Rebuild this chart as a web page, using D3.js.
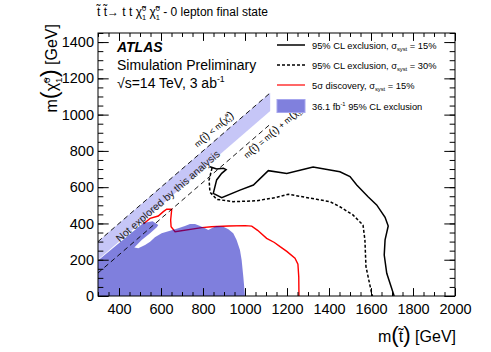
<!DOCTYPE html>
<html>
<head>
<meta charset="utf-8">
<script src="https://cdn.jsdelivr.net/npm/d3@7"></script>
<style>
  body { margin: 0; background: #fff; }
  svg text { font-family: "Liberation Sans", Arial, sans-serif; fill: #000; }
</style>
</head>
<body>
<div id="chart"></div>
<script>
// --- données (m(stop), m(chi)) en GeV ---
const xTicks = [400, 600, 800, 1000, 1200, 1400, 1600, 1800, 2000];
const yTicks = [0, 200, 400, 600, 800, 1000, 1200, 1400];

const limit15 = [
  [833, 713], [865, 700], [897, 704], [910, 697], [889, 676], [865, 640],
  [849, 566], [889, 542], [976, 584], [1040, 612], [1111, 691], [1199, 676],
  [1324, 711], [1452, 685], [1500, 658], [1532, 612], [1586, 547], [1627, 502],
  [1667, 434], [1682, 386], [1667, 309], [1663, 226], [1675, 125], [1706, 15], [1710, 0]
];
const limit30 = [
  [843, 706], [829, 640], [833, 573], [865, 533], [943, 520], [1056, 525],
  [1151, 544], [1206, 561], [1341, 533], [1405, 520], [1452, 492], [1514, 447],
  [1562, 391], [1571, 309], [1576, 162], [1603, 15], [1607, 0]
];
const discovery15 = [
  [516, 397], [548, 428], [587, 441], [611, 465], [627, 478], [651, 478],
  [646, 419], [648, 382], [667, 354], [794, 377], [841, 382], [921, 386],
  [1000, 388], [1032, 385], [1060, 362], [1103, 318], [1140, 295], [1167, 272],
  [1199, 246], [1238, 208], [1252, 175], [1256, 106], [1257, 0]
];
const excl36 = [
  [300, 0], [1000, 0], [992, 106], [984, 198], [976, 254], [960, 309], [944, 346],
  [921, 368], [897, 382], [865, 386], [841, 373], [825, 364], [810, 373], [786, 386],
  [762, 397], [738, 397], [714, 386], [682, 373], [643, 360], [603, 346], [571, 324],
  [548, 299], [524, 281], [492, 263], [473, 268], [508, 309], [548, 346], [580, 379],
  [587, 391], [560, 412], [516, 402], [300, 196]
];
const bandNotExplored = [[300, 300], [1120, 1120], [1120, 1020], [300, 200]];
const lineDegenerate = [[300, 300], [1120, 1120]];
const lineTopMass = [[300, 127], [1120, 947]];

const W = 491, H = 352;
const FRAME = { left: 98, right: 455, top: 33, bottom: 296 };

const x = d3.scaleLinear().domain([300, 2000]).range([FRAME.left, FRAME.right]);
const y = d3.scaleLinear().domain([0, 1450]).range([FRAME.bottom, FRAME.top]);

const svg = d3.select('#chart').append('svg')
  .attr('width', W).attr('height', H);

svg.append('defs').append('clipPath').attr('id', 'plot-clip')
  .append('rect')
  .attr('x', FRAME.left).attr('y', FRAME.top)
  .attr('width', FRAME.right - FRAME.left).attr('height', FRAME.bottom - FRAME.top);

const plot = svg.append('g').attr('clip-path', 'url(#plot-clip)');
const line = d3.line().x(d => x(d[0])).y(d => y(d[1]));

/**
 * Ajoute des tspans (texte, indices, exposants) à un élément text.
 */
function rich(sel, parts, fs) {
  let shift = 0;
  parts.forEach(p => {
    if (typeof p === 'string') p = { t: p };
    if (p.t !== undefined) {
      const dy = (p.dy || 0) - shift;
      sel.append('tspan').attr('font-size', fs * (p.s || 1)).attr('dy', dy).text(p.t);
      shift = p.dy || 0;
      return;
    }
    const small = fs * 0.62;
    let w = 0;
    if (p.sub) {
      sel.append('tspan').attr('font-size', small).attr('dy', fs * 0.3 - shift).text(p.sub);
      shift = fs * 0.3;
      w = p.sub.length * small * 0.556;
    }
    if (p.sup) {
      sel.append('tspan').attr('font-size', small)
        .attr('dx', p.sub ? -w : 0)
        .attr('dy', -fs * 0.42 - shift).text(p.sup);
      shift = -fs * 0.42;
    }
  });
}

// zones et courbes
plot.append('path').datum(bandNotExplored)
  .attr('d', d => line(d) + 'Z')
  .attr('fill', '#c6c6f7');

plot.append('path').datum(discovery15)
  .attr('d', line).attr('fill', 'none')
  .attr('stroke', '#ff0000').attr('stroke-width', 1.4);

plot.append('path').datum(excl36)
  .attr('d', d => line(d) + 'Z')
  .attr('fill', '#0000bb').attr('fill-opacity', 0.5);

[lineDegenerate, lineTopMass].forEach(l => {
  plot.append('path').datum(l)
    .attr('d', line).attr('fill', 'none')
    .attr('stroke', '#000').attr('stroke-width', 0.9)
    .attr('stroke-dasharray', '5,3.5');
});

plot.append('path').datum(limit30)
  .attr('d', line).attr('fill', 'none')
  .attr('stroke', '#000').attr('stroke-width', 1.5)
  .attr('stroke-dasharray', '3,2');

plot.append('path').datum(limit15)
  .attr('d', line).attr('fill', 'none')
  .attr('stroke', '#000').attr('stroke-width', 1.5);

// textes le long des diagonales
const ang = -Math.atan2(y(0) - y(1000), x(1000) - x(0)) * 180 / Math.PI;

const t1 = svg.append('text')
  .attr('transform', `translate(${x(880)},${y(880)}) rotate(${ang})`)
  .attr('y', -6).attr('text-anchor', 'middle');
rich(t1, ['m', { t: '(', s: 1.3 }, 't\u0303', { t: ')', s: 1.3 }, ' < m', { t: '(', s: 1.3 },
  '\u03C7\u0303', { sub: '1', sup: '0' }, { t: ')', s: 1.3 }], 8.5);

const t2 = svg.append('text')
  .attr('transform', `translate(${x(1110)},${y(937)}) rotate(${ang})`)
  .attr('y', 11).attr('text-anchor', 'middle');
rich(t2, ['m', { t: '(', s: 1.3 }, 't\u0303', { t: ')', s: 1.3 }, ' = m', { t: '(', s: 1.3 }, 't',
  { t: ')', s: 1.3 }, ' + m', { t: '(', s: 1.3 }, '\u03C7\u0303', { sub: '1', sup: '0' }, { t: ')', s: 1.3 }], 8.5);

svg.append('text')
  .attr('transform', `translate(${x(619)},${y(569)}) rotate(${ang})`)
  .attr('y', 8).attr('text-anchor', 'middle')
  .attr('font-size', 10.5).style('fill', '#222')
  .text('Not explored by this analysis');

// axes (graduations internes, style ROOT)
const minorX = d3.range(300, 2001, 50);
const minorY = d3.range(0, 1451, 50);
const tkX = 7.9, tkY = 10.7;
const fmt = d3.format('d');

function styleAxis(g) {
  g.select('.domain').remove();
  g.selectAll('line').attr('stroke', '#000');
  g.selectAll('text').attr('font-size', 14.5).attr('font-family', '"Liberation Sans", Arial, sans-serif');
}

svg.append('g').attr('transform', `translate(0,${FRAME.bottom})`)
  .call(d3.axisBottom(x).tickValues(xTicks).tickSize(-tkX).tickPadding(8).tickFormat(fmt)).call(styleAxis);
svg.append('g').attr('transform', `translate(0,${FRAME.bottom})`)
  .call(d3.axisBottom(x).tickValues(minorX).tickSize(-tkX / 2).tickFormat('')).call(styleAxis);
svg.append('g').attr('transform', `translate(0,${FRAME.top})`)
  .call(d3.axisTop(x).tickValues(xTicks).tickSize(-tkX).tickFormat('')).call(styleAxis);
svg.append('g').attr('transform', `translate(0,${FRAME.top})`)
  .call(d3.axisTop(x).tickValues(minorX).tickSize(-tkX / 2).tickFormat('')).call(styleAxis);

svg.append('g').attr('transform', `translate(${FRAME.left},0)`)
  .call(d3.axisLeft(y).tickValues(yTicks).tickSize(-tkY).tickPadding(4).tickFormat(fmt)).call(styleAxis);
svg.append('g').attr('transform', `translate(${FRAME.left},0)`)
  .call(d3.axisLeft(y).tickValues(minorY).tickSize(-tkY / 2).tickFormat('')).call(styleAxis);
svg.append('g').attr('transform', `translate(${FRAME.right},0)`)
  .call(d3.axisRight(y).tickValues(yTicks).tickSize(-tkY).tickFormat('')).call(styleAxis);
svg.append('g').attr('transform', `translate(${FRAME.right},0)`)
  .call(d3.axisRight(y).tickValues(minorY).tickSize(-tkY / 2).tickFormat('')).call(styleAxis);

svg.append('rect')
  .attr('x', FRAME.left).attr('y', FRAME.top)
  .attr('width', FRAME.right - FRAME.left).attr('height', FRAME.bottom - FRAME.top)
  .attr('fill', 'none').attr('stroke', '#000').attr('stroke-width', 1);

// titres des axes
const xt = svg.append('text').attr('x', FRAME.right + 1).attr('y', 342).attr('text-anchor', 'end');
rich(xt, ['m', { t: '(', s: 1.4 }, 't\u0303', { t: ')', s: 1.4 }, ' [GeV]'], 16);

const yt = svg.append('text')
  .attr('transform', 'translate(57,24) rotate(-90)').attr('text-anchor', 'end');
rich(yt, ['m', { t: '(', s: 1.5 }, '\u03C7\u0303', { sub: '1', sup: '0' }, { t: ')', s: 1.5 }, ' [GeV]'], 16);

// titre du processus
const tt = svg.append('text').attr('x', 97).attr('y', 16);
rich(tt, ['t\u0303 t\u0303\u2192 t t ', '\u03C7\u0303', { sub: '1', sup: '0' }, ' ',
  '\u03C7\u0303', { sub: '1', sup: '0' }, ' - 0 lepton final state'], 12);

// étiquette ATLAS
svg.append('text').attr('x', 117).attr('y', 52)
  .attr('font-size', 14).attr('font-weight', 'bold').attr('font-style', 'italic')
  .text('ATLAS');
svg.append('text').attr('x', 117).attr('y', 70).attr('font-size', 14)
  .text('Simulation Preliminary');
const en = svg.append('text').attr('x', 117).attr('y', 88);
rich(en, ['\u221As=14 TeV, 3 ab', { sup: '-1' }], 14);

// légende
const LEG = [
  { kind: 'line', dash: null, color: '#000', label: ['95% CL exclusion, \u03C3', { sub: 'syst' }, ' = 15%'] },
  { kind: 'line', dash: '3,2', color: '#000', label: ['95% CL exclusion, \u03C3', { sub: 'syst' }, ' = 30%'] },
  { kind: 'line', dash: null, color: '#ff0000', label: ['5\u03C3 discovery, \u03C3', { sub: 'syst' }, ' = 15%'] },
  { kind: 'box', color: '#8080dd', label: ['36.1 fb', { sup: '-1' }, ' 95% CL exclusion'] }
];
const legY = [45, 65, 85, 106];
const leg = svg.append('g');
LEG.forEach((e, i) => {
  const cy = legY[i];
  if (e.kind === 'line') {
    leg.append('line').attr('x1', 277).attr('x2', 305).attr('y1', cy).attr('y2', cy)
      .attr('stroke', e.color).attr('stroke-width', e.color === '#000' ? 1.5 : 1.2)
      .attr('stroke-dasharray', e.dash);
  } else {
    leg.append('rect').attr('x', 277).attr('y', cy - 6.5).attr('width', 28).attr('height', 13)
      .attr('fill', e.color).attr('stroke', '#a6a6ee').attr('stroke-width', 1);
  }
  const t = leg.append('text').attr('x', 312).attr('y', cy + 3.5);
  rich(t, e.label, 9.3);
});
</script>
</body>
</html>
